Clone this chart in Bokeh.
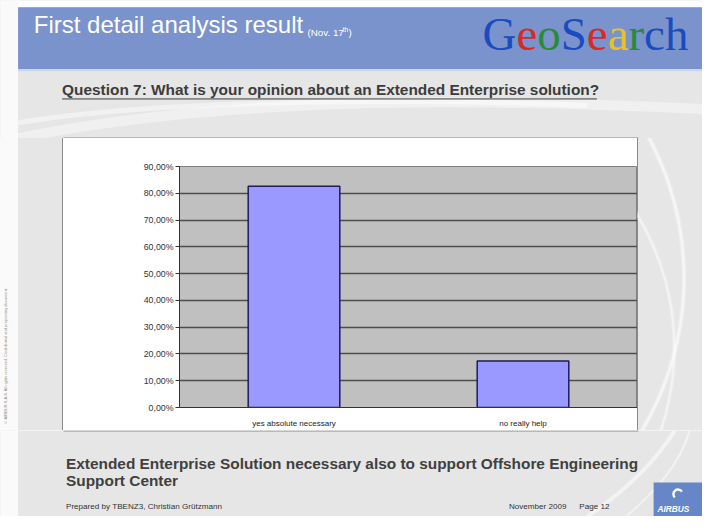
from bokeh.plotting import figure
from bokeh.layouts import column, row
from bokeh.models import Range1d, FixedTicker, FactorRange, Div
from bokeh.embed import file_html
from bokeh.resources import INLINE
from bokeh.core.properties import value

# ---------------- data ----------------
categories = ["yes absolute necessary", "no really help"]
shares = [82.61, 17.39]          # percent of answers
tick_values = [0, 10, 20, 30, 40, 50, 60, 70, 80, 90]
tick_labels = ["0,00%", "10,00%", "20,00%", "30,00%", "40,00%",
               "50,00%", "60,00%", "70,00%", "80,00%", "90,00%"]

slide_title = "First detail analysis result"
slide_date = ["(Nov. 17", "th", ")"]
brand_letters = ["G", "e", "o", "S", "e", "a", "r", "c", "h"]
brand_colors = ["#1a4cc0", "#d62a22", "#2a8a3a", "#1a4cc0", "#d62a22",
                "#e8c21e", "#2a8a3a", "#1a4cc0", "#1a4cc0"]
brand_widths = [0.722, 0.444, 0.5, 0.556, 0.444, 0.444, 0.333, 0.444, 0.5]
question = "Question 7: What is your opinion about an Extended Enterprise solution?"
conclusion = ["Extended Enterprise Solution necessary also to support Offshore Engineering",
              "Support Center"]
footer_left = "Prepared by TBENZ3, Christian Grützmann"
footer_date = "November 2009"
footer_page = "Page 12"
logo_text = "AIRBUS"
copyright_note = "© AIRBUS S.A.S. All rights reserved. Confidential and proprietary document."

# ---------------- geometry (slide units 718 x 532 -> 702 x 516 px) ----------------
SX = 702 / 718
SY = 516 / 532
SLIDE = "#e6e6e6"
STRIP = "#fafafa"
BLUE = "#7a93cc"
BOX = "#8c8c8c"
SANS = value("Liberation Sans")
K = 0.40  # baseline correction factor


def fs(size):
    return "%.1fpx" % (size * SX)


def base(y, size):
    return y - K * size


def deco(wpx, hpx, y0px):
    p = figure(width=wpx, height=hpx,
               x_range=Range1d(0, wpx / SX),
               y_range=Range1d((y0px + hpx) / SY, y0px / SY),
               x_axis_type=None, y_axis_type=None, tools="",
               toolbar_location=None, output_backend="svg", min_border=0,
               background_fill_color=SLIDE, border_fill_color=SLIDE,
               outline_line_color=None)
    for g in p.grid:
        g.visible = False
    return p


# ---------------- top part ----------------
top = deco(702, 138, 0)
top.quad(left=[0], right=[718], top=[0], bottom=[7], fill_color="white", line_color=None)
top.quad(left=[0], right=[18], top=[0], bottom=[143], fill_color=STRIP, line_color=None)
top.bezier(x0=[18], y0=[142], x1=[718], y1=[112], cx0=[200], cy0=[104], cx1=[450], cy1=[98],
           line_color="white", line_width=10, line_alpha=0.4)
top.bezier(x0=[18], y0=[126], x1=[600], y1=[108], cx0=[150], cy0=[104], cx1=[380], cy1=[100],
           line_color="white", line_width=5, line_alpha=0.45)
top.quad(left=[18], right=[718], top=[7], bottom=[71], fill_color=BLUE, line_color=None)
top.quad(left=[18], right=[718], top=[71], bottom=[73], fill_color="#cdd6ea", line_color=None)

top.text(x=[34], y=[base(35, 24.5)], text=[slide_title], text_font=SANS, text_font_size=fs(24.5),
         text_color="white", text_baseline="alphabetic")
top.text(x=[314, 350, 356], y=[base(37, 10), base(33, 6.5), base(37, 10)], text=slide_date,
         text_font=SANS, text_font_size=[fs(10), fs(6.5), fs(10)], text_color="white",
         text_baseline="alphabetic")

bx = [493.0]
for w in brand_widths[:-1]:
    bx.append(bx[-1] + w * 48)
top.text(x=bx, y=[base(54, 48)] * len(bx), text=brand_letters,
         text_font=value("Liberation Serif"), text_font_size=fs(48),
         text_color=brand_colors, text_baseline="alphabetic")

top.text(x=[63], y=[base(98, 15.7)], text=[question], text_font=SANS, text_font_size=fs(15.7),
         text_font_style="bold", text_color="#3c3c3c", text_baseline="alphabetic")
top.segment(x0=[63], y0=[101.5], x1=[610], y1=[101.5], line_color="#3c3c3c", line_width=1)
# top edge of the chart box
top.segment(x0=[63 / SX], y0=[137.5 / SY], x1=[638 / SX], y1=[137.5 / SY],
            line_color=BOX, line_width=1)

# ---------------- chart ----------------
chart = figure(width=574, height=292, x_range=FactorRange(*categories),
               y_range=Range1d(0, 90), tools="", toolbar_location=None,
               output_backend="svg", min_border_left=116, min_border_right=0,
               min_border_top=28, min_border_bottom=20,
               background_fill_color="#c0c0c0", border_fill_color="white",
               outline_line_color="#808080")
chart.vbar(x=categories, top=shares, width=0.4, fill_color="#9999ff",
           line_color="#1c1c5c", line_width=1.5)
chart.xgrid.visible = False
chart.ygrid.ticker = FixedTicker(ticks=tick_values)
chart.ygrid.grid_line_color = "#4d4d4d"
chart.ygrid.grid_line_width = 1.5
chart.yaxis.ticker = FixedTicker(ticks=tick_values)
chart.yaxis.major_label_overrides = dict(zip(tick_values, tick_labels))
chart.yaxis.minor_tick_line_color = None
chart.yaxis.major_tick_in = 0
chart.yaxis.major_tick_out = 4
chart.yaxis.major_tick_line_color = "#333333"
chart.yaxis.axis_line_color = "#333333"
chart.yaxis.major_label_text_font = "Liberation Sans"
chart.yaxis.major_label_text_font_size = "8.8px"
chart.yaxis.major_label_text_color = "#333333"
chart.yaxis.major_label_standoff = 2
chart.xaxis.major_tick_line_color = None
chart.xaxis.axis_line_color = "#333333"
chart.xaxis.major_label_text_font = "Liberation Sans"
chart.xaxis.major_label_text_font_size = "8px"
chart.xaxis.major_label_text_color = "#222222"
chart.xaxis.major_label_standoff = 5

# ---------------- side parts ----------------
left = Div(
    text=('<div style="writing-mode: vertical-rl; transform: rotate(180deg); '
          'font-family: Liberation Sans; font-size: 4px; color: #8a8a8a; '
          'white-space: nowrap; margin-top: 150px; margin-left: 3px;">'
          + copyright_note + '</div>'),
    width=63, height=292, margin=(0, 0, 0, 0),
    styles={"background": ("linear-gradient(to right, #fafafa 0px, #fafafa 18px, "
                           "#e6e6e6 18px, #e6e6e6 62px, #8c8c8c 62px, #8c8c8c 63px)"),
            "overflow": "hidden"})
right = Div(
    text="", width=65, height=292, margin=(0, 0, 0, 0),
    styles={"background": (
        "radial-gradient(circle 300px at -250px 140px, rgba(255,255,255,0) 294px, "
        "rgba(255,255,255,0.75) 297px, rgba(255,255,255,0) 300px), "
        "radial-gradient(circle 260px at -220px 210px, rgba(255,255,255,0) 255px, "
        "rgba(255,255,255,0.6) 257px, rgba(255,255,255,0) 260px), "
        "linear-gradient(to right, #8c8c8c 0px, #8c8c8c 1px, #e6e6e6 1px)"),
        "overflow": "hidden"})

# ---------------- bottom part ----------------
bottom = deco(702, 86, 430)
bottom.quad(left=[0], right=[18], top=[443], bottom=[532], fill_color=STRIP, line_color=None)
bottom.bezier(x0=[690], y0=[443], x1=[600], y1=[532], cx0=[670], cy0=[475], cx1=[640], cy1=[505],
              line_color="white", line_width=4, line_alpha=0.5)
bottom.bezier(x0=[705], y0=[443], x1=[640], y1=[532], cx0=[695], cy0=[480], cx1=[665], cy1=[510],
              line_color="white", line_width=2, line_alpha=0.5)
bottom.segment(x0=[63 / SX], y0=[430.5 / SY], x1=[638 / SX], y1=[430.5 / SY],
               line_color=BOX, line_width=1)
bottom.text(x=[67, 67], y=[base(484, 15.7), base(501, 15.7)], text=conclusion, text_font=SANS,
            text_font_size=fs(15.7), text_font_style="bold", text_color="#404040",
            text_baseline="alphabetic")
bottom.text(x=[67, 520, 592], y=[base(525, 8.3)] * 3, text=[footer_left, footer_date, footer_page],
            text_font=SANS, text_font_size=fs(8.3), text_color="#333333",
            text_baseline="alphabetic")
bottom.quad(left=[668], right=[718], top=[497], bottom=[532], fill_color="#6686c8", line_color=None)
bottom.annular_wedge(x=[693], y=[509], inner_radius=3.5, outer_radius=6, start_angle=0.6,
                     end_angle=3.9, fill_color="white", line_color=None)
bottom.text(x=[672], y=[base(528, 8.5)], text=[logo_text], text_font=SANS, text_font_size=fs(8.5),
            text_font_style="bold italic", text_color="white", text_baseline="alphabetic")

page = column(top, row(left, chart, right), bottom)
open("out.html", "w").write(file_html(page, INLINE))
